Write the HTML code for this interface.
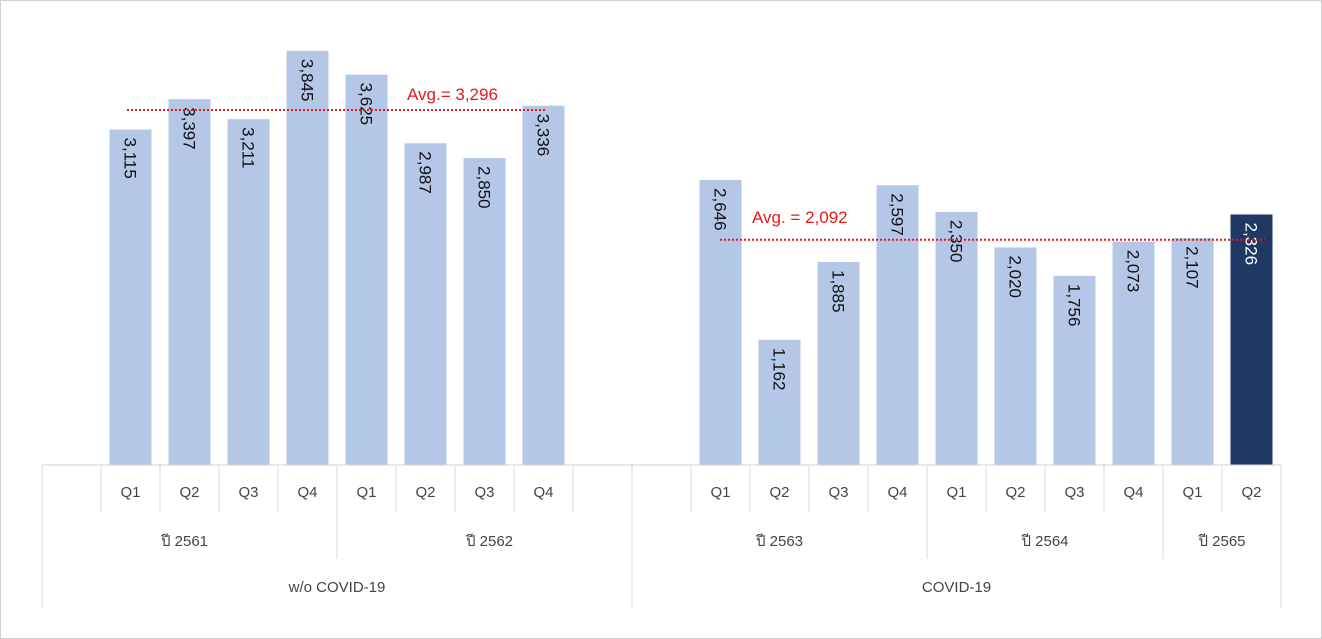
<!DOCTYPE html>
<html><head><meta charset="utf-8">
<style>
html,body{margin:0;padding:0;background:#fff;}
#frame{position:absolute;left:0;top:0;width:1320px;height:637px;border:1px solid #d0d0d0;}
svg{position:absolute;left:0;top:0;font-family:"Liberation Sans","Noto Sans CJK SC",sans-serif;}
</style></head>
<body>
<div id="frame"></div>
<svg id="chart" width="1322" height="639"></svg>
<script>
const quarters = ["Q1","Q2","Q3","Q4","Q1","Q2","Q3","Q4","Q1","Q2","Q3","Q4","Q1","Q2","Q3","Q4","Q1","Q2"];
const values = [3115,3397,3211,3845,3625,2987,2850,3336,2646,1162,1885,2597,2350,2020,1756,2073,2107,2326];
const valueLabels = ["3,115","3,397","3,211","3,845","3,625","2,987","2,850","3,336","2,646","1,162","1,885","2,597","2,350","2,020","1,756","2,073","2,107","2,326"];
const cellIndex = [1,2,3,4,5,6,7,8,11,12,13,14,15,16,17,18,19,20];
const highlight = [false,false,false,false,false,false,false,false,false,false,false,false,false,false,false,false,false,true];
const years = ["ปี 2561","ปี 2562","ปี 2563","ปี 2564","ปี 2565"];
const yearSpans = [[0,5],[5,10],[10,15],[15,19],[19,21]];
const groups = ["w/o COVID-19","COVID-19"];
const groupSpans = [[0,10],[10,21]];
const avgValues = [3296,2092];
const avgLabels = ["Avg.= 3,296","Avg. = 2,092"];

const NS="http://www.w3.org/2000/svg";
const svg=document.getElementById('chart');
const X0=42, PITCH=59.0, BASE=465, SCALE=0.1077, BW=42;
const xCell=i=>X0+i*PITCH;
const yVal=v=>BASE-v*SCALE;
function mk(tag,attrs,text){const e=document.createElementNS(NS,tag);for(const k in attrs)e.setAttribute(k,attrs[k]);if(text!==undefined)e.textContent=text;svg.appendChild(e);return e;}

values.forEach((v,i)=>{
  const cx=xCell(cellIndex[i])+PITCH/2;
  const r=mk('rect',{x:cx-BW/2,y:yVal(v),width:BW,height:v*SCALE,fill:highlight[i]?'#1f3864':'#b4c7e7'});
  
  
  const ty=yVal(v)+8;
  const t=mk('text',{x:0,y:0,transform:`translate(${cx-6},${ty}) rotate(90)`,'font-size':17,fill:highlight[i]?'#ffffff':'#111'},valueLabels[i]);
  
  
  const q=mk('text',{x:cx,y:497,'text-anchor':'middle','font-size':15,fill:'#444'},quarters[i]);
  
  
});

const axL=mk('line',{x1:X0,x2:xCell(21),y1:BASE,y2:BASE,stroke:'#d0d0d0','stroke-width':1});


const tickB=[1,2,3,4,6,7,8,9,11,12,13,14,16,17,18,20];
tickB.forEach(b=>{const l=mk('line',{x1:xCell(b),x2:xCell(b),y1:BASE,y2:512,stroke:'#d8d8d8'});
  
  });
[5,15,19].forEach(b=>{const l=mk('line',{x1:xCell(b),x2:xCell(b),y1:BASE,y2:559,stroke:'#d8d8d8'});
  
  });
[0,10,21].forEach(b=>{const l=mk('line',{x1:xCell(b),x2:xCell(b),y1:BASE,y2:608,stroke:'#d8d8d8'});
  
  });

years.forEach((y,i)=>{const s=yearSpans[i];let cx=(xCell(s[0])+xCell(s[1]))/2;
  if(i===0)cx-=5; if(i===1)cx+=5;
  const t=mk('text',{x:cx,y:546,'text-anchor':'middle','font-size':15,fill:'#444'},y);
  
  });
groups.forEach((g,i)=>{const s=groupSpans[i];const cx=(xCell(s[0])+xCell(s[1]))/2;
  const t=mk('text',{x:cx,y:592,'text-anchor':'middle','font-size':15,fill:'#444'},g);
  
  });

const avgX=[[127,545],[720,1265]];
const avgText=[[407,100],[752,223]];
avgValues.forEach((a,i)=>{
  const l=mk('line',{x1:avgX[i][0],x2:avgX[i][1],y1:yVal(a),y2:yVal(a),stroke:'#e31a1c','stroke-width':2,'stroke-dasharray':'2,2'});
  
  
  const t=mk('text',{x:avgText[i][0],y:avgText[i][1],'font-size':17,fill:'#e31a1c'},avgLabels[i]);
  
  
});
</script>
</body></html>
